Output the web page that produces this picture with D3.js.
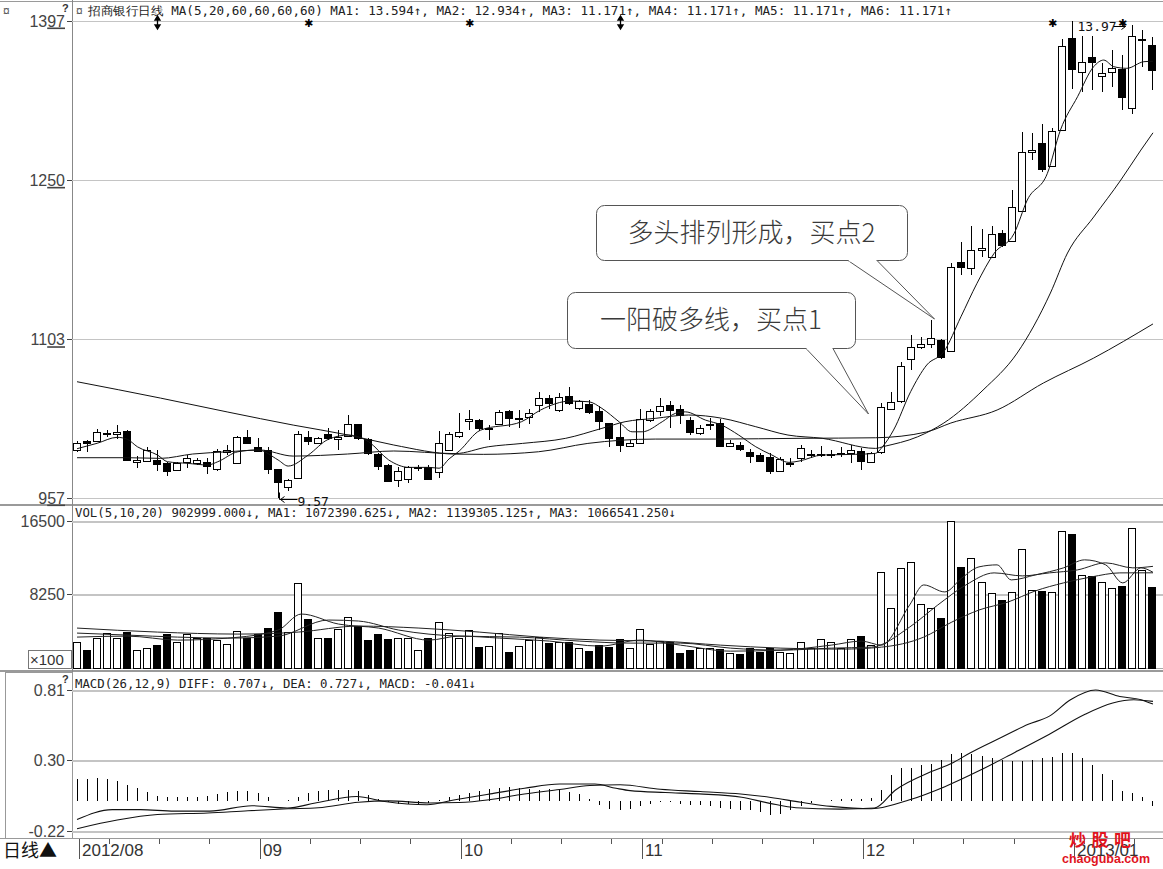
<!DOCTYPE html>
<html><head><meta charset="utf-8">
<script src="https://cdn.jsdelivr.net/npm/d3@7"></script>
<style>body{margin:0;background:#fff}svg{display:block}</style>
</head><body>
<svg id="c" width="1163" height="869"></svg>
<script>
// ---------- DATA ----------
const opens=[10.01,10.09,10.09,10.16,10.16,10.18,9.90,9.91,9.92,9.89,9.82,9.90,9.885,9.90,9.83,9.99,9.89,10.13,10.04,10.01,9.83,9.67,9.75,10.13,10.07,10.155,10.11,10.14,10.245,10.106,9.97,9.87,9.73,9.74,9.845,9.854,9.808,10.008,10.14,10.28,10.285,10.205,10.245,10.368,10.30,10.315,10.423,10.49,10.377,10.506,10.392,10.43,10.368,10.254,10.13,10.045,10.07,10.285,10.368,10.423,10.383,10.284,10.162,10.245,10.26,10.047,10.054,9.992,9.962,9.946,9.817,9.888,9.93,9.969,9.97,9.971,9.975,9.977,10.00,9.90,9.992,10.39,10.46,10.847,10.961,10.985,11.022,10.924,11.745,11.684,11.853,11.791,12.007,11.939,12.215,12.754,12.843,12.628,12.96,13.806,13.498,13.63,13.458,13.492,13.52,13.16,13.79,13.744];
const highs=[10.09,10.10,10.20,10.19,10.24,10.19,9.95,10.04,10.01,9.90,9.90,9.96,9.93,9.93,10.02,10.05,10.14,10.19,10.12,10.04,9.83,9.74,10.18,10.18,10.13,10.21,10.19,10.33,10.25,10.12,9.98,9.88,9.85,9.86,9.87,9.87,10.18,10.17,10.35,10.38,10.29,10.24,10.38,10.38,10.38,10.39,10.54,10.52,10.53,10.59,10.47,10.47,10.41,10.26,10.254,10.10,10.39,10.39,10.49,10.46,10.42,10.31,10.24,10.30,10.29,10.10,10.08,10.017,9.977,9.977,9.946,9.93,10.054,10.008,10.047,10.008,10.038,10.054,10.023,9.99,10.44,10.546,10.822,11.069,11.053,11.207,11.03,11.73,11.93,12.074,12.044,12.074,12.037,12.406,12.944,12.929,13.015,12.975,13.796,13.97,13.827,13.827,13.58,13.698,13.651,13.93,13.882,13.815];
const lows=[9.99,9.99,10.08,10.13,10.11,9.91,9.84,9.90,9.81,9.77,9.81,9.84,9.87,9.79,9.81,9.96,9.88,10.07,9.99,9.79,9.57,9.63,9.74,10.05,10.06,10.10,10.01,10.13,10.10,9.96,9.82,9.71,9.67,9.70,9.81,9.73,9.75,10.00,10.12,10.19,10.18,10.10,10.24,10.22,10.21,10.25,10.36,10.39,10.36,10.42,10.38,10.34,10.19,10.04,9.99,10.04,10.06,10.27,10.32,10.21,10.25,10.15,10.15,10.19,10.04,10.04,9.998,9.885,9.894,9.784,9.808,9.854,9.90,9.93,9.946,9.937,9.946,9.885,9.823,9.89,9.97,10.38,10.44,10.746,10.937,10.946,10.845,10.92,11.622,11.622,11.79,11.776,11.883,11.93,12.21,12.683,12.575,12.621,12.953,13.335,13.313,13.33,13.313,13.359,13.144,13.11,13.544,13.33];
const closes=[10.07,10.07,10.17,10.165,10.17,9.92,9.92,10.01,9.875,9.81,9.885,9.93,9.915,9.86,10.00,10.01,10.13,10.075,10.00,9.83,9.71,9.73,10.155,10.09,10.115,10.115,10.13,10.245,10.115,9.977,9.86,9.725,9.814,9.848,9.848,9.74,10.07,10.16,10.17,10.29,10.208,10.21,10.356,10.30,10.305,10.352,10.485,10.438,10.499,10.439,10.46,10.36,10.275,10.116,10.054,10.075,10.294,10.368,10.414,10.377,10.33,10.176,10.213,10.25,10.045,10.075,10.017,9.955,9.91,9.814,9.925,9.892,10.029,9.973,9.974,9.975,9.98,10.008,9.906,9.977,10.402,10.448,10.785,10.961,10.985,11.038,10.868,11.693,11.699,11.853,11.868,11.998,11.899,12.247,12.76,12.775,12.597,12.953,13.737,13.52,13.59,13.584,13.489,13.535,13.267,13.827,13.795,13.514];
const volumes=[2893,1955,3277,3842,3277,4023,1955,2147,2520,3729,2893,3729,3277,3345,3085,2599,4136,3277,3729,4407,6215,3955,9492,5424,3345,3277,4328,5650,4701,3085,3729,3198,3345,3277,1955,3277,5153,3842,3345,4215,2328,2441,3842,1695,2441,3085,3458,2712,2893,2825,2147,1876,2520,2328,3164,2147,4294,2599,2972,2893,1650,1955,2215,2147,2068,1582,1503,2147,1763,2215,1763,1582,2893,2215,3198,2893,2215,3164,3571,2520,10803,6667,11255,11933,7119,6735,5537,16532,11368,12385,9673,8362,7605,8543,13334,8735,8622,8475,15323,15029,10430,10351,9673,8927,9187,15707,10995,9030];
const macdHist=[0.157,0.157,0.164,0.157,0.147,0.116,0.092,0.068,0.037,0.027,0.027,0.027,0.032,0.037,0.051,0.068,0.075,0.075,0.056,0.027,-0.004,0.008,0.032,0.056,0.075,0.08,0.08,0.08,0.075,0.044,0.013,-0.011,-0.02,-0.02,-0.02,-0.016,0.008,0.027,0.044,0.06,0.075,0.085,0.092,0.099,0.092,0.085,0.08,0.085,0.08,0.068,0.051,0.013,-0.028,-0.059,-0.068,-0.059,-0.04,-0.023,-0.011,-0.011,-0.02,-0.028,-0.028,-0.035,-0.052,-0.059,-0.064,-0.068,-0.083,-0.1,-0.093,-0.064,-0.035,-0.016,-0.004,0.008,0.013,0.013,0.013,0.02,0.08,0.19,0.24,0.24,0.26,0.27,0.30,0.34,0.35,0.34,0.33,0.31,0.30,0.29,0.29,0.30,0.31,0.32,0.35,0.35,0.31,0.26,0.20,0.15,0.07,0.056,0.032,-0.041];
// moving-average lines read at positions along the candle axis: [candle position, value]
const priceMA5=[[0,10.02],[2,10.07],[4,10.125],[5,10.107],[6,10.038],[8,9.962],[9,9.90],[11,9.885],[13,9.87],[14,9.90],[16,9.992],[18,10.008],[20,9.916],[21,9.86],[23,9.962],[25,10.107],[27,10.146],[29,10.084],[31,9.916],[33,9.848],[35,9.848],[36,9.84],[37,9.926],[38,9.998],[40.1,10.19],[44.2,10.269],[46.1,10.377],[49.1,10.46],[50.9,10.453],[52.2,10.392],[53.9,10.269],[55.2,10.176],[56.2,10.176],[58.2,10.269],[59.5,10.346],[60.5,10.36],[62.5,10.284],[64.1,10.238],[65.8,10.146],[67.5,10.038],[69.1,9.962],[70.8,9.894],[71.8,9.906],[74.1,9.962],[77.4,9.968],[79.4,9.977],[80.1,10.038],[81.2,10.192],[82.9,10.546],[84.5,10.792],[86.2,10.915],[87.9,11.237],[89.5,11.546],[91.2,11.822],[93.2,12.007],[94.5,12.314],[96.5,12.56],[97.8,12.96],[99.5,13.267],[101.1,13.544],[102.1,13.605],[103.1,13.544],[104.4,13.529],[106.1,13.59],[107,13.594]];
const priceMA20=[[0,9.937],[5,9.937],[8.3,9.931],[11.5,9.971],[15,9.992],[18.2,10.008],[21.5,9.952],[26.9,9.971],[31.5,9.999],[37.6,9.975],[40.9,10.038],[44.3,10.069],[48.6,10.116],[52.2,10.208],[54.5,10.269],[57.5,10.30],[60.8,10.331],[64.2,10.30],[67.5,10.223],[70.7,10.146],[74.1,10.116],[79.4,10.023],[80.2,10.04],[83.6,10.13],[86.2,10.257],[90.1,10.561],[93.5,10.903],[96.8,11.456],[98.5,11.825],[101.1,12.157],[103.8,12.498],[105.8,12.775],[107,12.934]];
const priceMA60=[[0,10.638],[8.3,10.487],[15,10.358],[21.5,10.238],[27,10.146],[31.5,10.054],[37.6,9.97],[40.4,9.968],[45.9,9.992],[50.8,10.069],[57.5,10.109],[63.5,10.109],[72,10.116],[79.4,10.121],[84.5,10.175],[86.9,10.257],[91.5,10.377],[96.1,10.626],[101.1,10.856],[107,11.171]];
const volMA5=[[0,3424],[5,3537],[10,3085],[15,3311],[20,4215],[22.3,6023],[26,4893],[30,4441],[35,3085],[38,3537],[42,3311],[47,2972],[52,2407],[56,3085],[60,2520],[65,1842],[70,1955],[75,2520],[78,2972],[80,2520],[82.8,7040],[84.2,9300],[86.3,8509],[88,10091],[89.7,11334],[91.5,11560],[92.9,9865],[95.3,10430],[98.1,11221],[100.2,12125],[102.3,11560],[104,9526],[105.8,11221],[107,10724]];
const volMA10=[[0,3876],[5,3650],[10,3424],[15,3311],[20,3537],[25,5345],[28,5232],[32,4215],[38,3537],[44,3424],[50,2972],[55,2746],[60,2746],[65,2181],[70,1955],[75,2181],[79,2294],[82.8,4554],[85.6,7040],[88.4,9300],[91.2,10656],[94,10317],[96.7,10656],[99.5,10995],[102.3,11786],[105,11221],[107,11393]];
const volMA20=[[0,4441],[8,3989],[16,3763],[22,3989],[28,4667],[34,4441],[40,3989],[46,3424],[52,3085],[58,2972],[64,2520],[70,2181],[76,2068],[80,2294],[84.2,3424],[87,5119],[89.7,6475],[92.6,7379],[95.3,8622],[98.1,9526],[100.9,10204],[103.7,10656],[107,10665]];
const diffLine=[[0,-0.136],[3.5,-0.064],[6.3,-0.064],[9.7,-0.075],[13.2,-0.075],[17.4,-0.035],[20.9,-0.052],[23.7,-0.016],[27.8,0.032],[30.6,-0.004],[34.8,-0.028],[37.6,0.008],[41.1,0.051],[44.5,0.092],[48,0.123],[51.5,0.123],[53.6,0.092],[55,0.075],[58.5,0.061],[61.9,0.051],[66.1,0.027],[68.9,-0.018],[71.5,-0.05],[75.9,-0.06],[79.3,-0.052],[81.4,0.08],[84.9,0.212],[87,0.275],[88.8,0.35],[91.9,0.463],[94.6,0.559],[96.7,0.619],[98.8,0.739],[101.3,0.81],[103.7,0.762],[105.8,0.739],[107,0.707]];
const deaLine=[[0,-0.203],[4,-0.14],[8,-0.1],[13,-0.088],[17,-0.072],[21,-0.058],[24,-0.05],[28,-0.01],[31,0.0],[35,-0.015],[38,-0.012],[41,0.008],[44,0.045],[48,0.083],[51,0.112],[54,0.118],[58,0.085],[62,0.068],[66,0.05],[69,0.025],[72,-0.01],[75,-0.04],[79,-0.058],[82.8,0.008],[86.3,0.104],[89.8,0.223],[93.3,0.356],[96.7,0.487],[100.2,0.631],[103,0.715],[105.1,0.739],[107,0.727]];
// axes
const priceTicks=[9.57,11.03,12.50,13.97];
const priceTickLabels=["957","1103","1250","1397"];
const volTicks=[8250,16500];
const volTickLabels=["8250","16500"];
const macdTicks=[-0.22,0.30,0.81];
const macdTickLabels=["-0.22","0.30","0.81"];
const monthStarts=[0,18,38,56,78,99];
const monthLabels=["2012/08","09","10","11","12","2013/01"];
const weekStarts=[3,8,13,23,28,33,43,48,53,58,63,68,73,83,88,93,100,105];
const mainTitle="招商银行日线 MA(5,20,60,60,60,60) MA1: 13.594↑, MA2: 12.934↑, MA3: 11.171↑, MA4: 11.171↑, MA5: 11.171↑, MA6: 11.171↑";
const volTitle="VOL(5,10,20) 902999.000↓, MA1: 1072390.625↓, MA2: 1139305.125↑, MA3: 1066541.250↓";
const macdTitle="MACD(26,12,9) DIFF: 0.707↓, DEA: 0.727↓, MACD: -0.041↓";
const calloutTexts=["多头排列形成，买点2","一阳破多线，买点1"];
const lowMark={i:20,label:"9.57"}, highMark={i:99,label:"13.97"};
const starMarks=[23,39,97,104];
const arrowMarks=[8,54];

// ---------- DRAW ----------
const svg=d3.select('#c');
const N=closes.length;
const L=72, R=1163;
const x=d3.scaleBand().domain(d3.range(N)).range([72,1158]);
const cx=i=>Math.floor(x(i)+x.bandwidth()/2)+0.5;
const xf=p=>x(0)+x.bandwidth()/2+p*x.step();
const yP=d3.scaleLinear().domain([9.57,13.97]).range([497.5,20.5]);
const yV=d3.scaleLinear().domain([0,16500]).range([667.5,521]);
const yM=d3.scaleLinear().domain([-0.22,0.81]).range([831,690]);
const r5=v=>Math.round(v)+0.5;
const grid="#c4c4c4", sep="#9a9a9a", ink="#000";
const labFont="'Liberation Sans',Arial,sans-serif";
const monoFont="'DejaVu Sans Mono','Liberation Mono',monospace";

function hline(y,x1,x2,col,w){svg.append('line').attr('x1',x1).attr('x2',x2).attr('y1',y).attr('y2',y).attr('stroke',col).attr('stroke-width',w||1).attr('shape-rendering','crispEdges');}
function vline(xx,y1,y2,col,w){svg.append('line').attr('x1',xx).attr('x2',xx).attr('y1',y1).attr('y2',y2).attr('stroke',col).attr('stroke-width',w||1).attr('shape-rendering','crispEdges');}

// frame / separators
hline(1.5,0,R,sep,1);
hline(504.5,0,R,sep,2);
hline(670.5,0,R,sep,2);
hline(838.5,0,R,sep,1);
vline(72.5,0,838,"#888",1);
svg.append('rect').attr('x',5.5).attr('y',672.5).attr('width',67).attr('height',166).attr('fill','none').attr('stroke','#999').attr('shape-rendering','crispEdges');

// gridlines
priceTicks.forEach(t=>hline(r5(yP(t)),L,R,grid,1));
volTicks.forEach(t=>hline(r5(yV(t)),L,R,grid,2));
hline(r5(yV(0)),L,R,"#aaa",1);
macdTicks.forEach(t=>hline(r5(yM(t)),L,R,grid,2));

// tick labels (left)
function leftLabel(y,txt,underline){
  const t=svg.append('text').attr('x',65).attr('y',y+6).attr('text-anchor','end')
    .attr('font-family',labFont).attr('font-size',16).attr('fill','#444');
  if(underline){
    t.append('tspan').text(txt.slice(0,-2));
    t.append('tspan').text(txt.slice(-2)).style('text-decoration','underline');
  } else t.text(txt);
  svg.append('line').attr('x1',67).attr('x2',72).attr('y1',r5(y)).attr('y2',r5(y)).attr('stroke','#444').attr('shape-rendering','crispEdges');
}
priceTicks.forEach((t,k)=>leftLabel(yP(t),priceTickLabels[k],true));
volTicks.forEach((t,k)=>leftLabel(yV(t),volTickLabels[k],false));
macdTicks.forEach((t,k)=>leftLabel(yM(t),macdTickLabels[k],false));
svg.append('rect').attr('x',28.5).attr('y',650.5).attr('width',43).attr('height',18).attr('fill','#fff').attr('stroke','#777').attr('shape-rendering','crispEdges');
svg.append('text').attr('x',30).attr('y',665).attr('font-family',labFont).attr('font-size',15).attr('fill','#333').text('×100');
// small "?" icons next to top labels
[[62,12],[62,683]].forEach(p=>svg.append('text').attr('x',p[0]).attr('y',p[1]).attr('font-family',labFont).attr('font-weight','bold').attr('font-size',11).attr('fill','#333').text('?'));
svg.append('text').attr('x',3).attr('y',15).attr('font-family',labFont).attr('font-size',12).attr('fill','#555').text('¤');

// headers
svg.append('text').attr('x',76).attr('y',15).attr('font-family',labFont).attr('font-size',12).attr('fill','#555').text('¤');
svg.append('text').attr('x',88).attr('y',15).attr('font-family',monoFont).attr('font-size',12).attr('fill','#222')
  .attr('textLength',864).attr('lengthAdjust','spacingAndGlyphs').text(mainTitle);
svg.append('text').attr('x',75).attr('y',517).attr('font-family',monoFont).attr('font-size',12).attr('fill','#222')
  .attr('textLength',601).attr('lengthAdjust','spacingAndGlyphs').text(volTitle);
svg.append('text').attr('x',75).attr('y',688).attr('font-family',monoFont).attr('font-size',12).attr('fill','#222')
  .attr('textLength',401).attr('lengthAdjust','spacingAndGlyphs').text(macdTitle);

// candles
const gC=svg.append('g').attr('shape-rendering','crispEdges');
d3.range(N).forEach(i=>{
  const up=closes[i]>=opens[i];
  const X=cx(i);
  gC.append('line').attr('x1',X).attr('x2',X).attr('y1',Math.round(yP(highs[i]))).attr('y2',Math.round(yP(lows[i]))).attr('stroke',ink);
  const yt=Math.round(yP(Math.max(opens[i],closes[i]))), yb=Math.round(yP(Math.min(opens[i],closes[i])));
  gC.append('rect').attr('x',X-4).attr('y',yt+0.5).attr('width',7).attr('height',Math.max(1,yb-yt))
    .attr('fill',up?'#fff':ink).attr('stroke',ink);
});

// price MA lines
const lineP=d3.line().x(d=>xf(d[0])).y(d=>yP(d[1])).curve(d3.curveMonotoneX);
[priceMA60,priceMA20,priceMA5].forEach(a=>svg.append('path').attr('d',lineP(a)).attr('fill','none').attr('stroke','#111').attr('stroke-width',1));

// volume bars
const gV=svg.append('g').attr('shape-rendering','crispEdges');
d3.range(N).forEach(i=>{
  const up=closes[i]>=opens[i];
  const X=cx(i); const yt=Math.round(yV(volumes[i])); const yb=Math.round(yV(0));
  gV.append('rect').attr('x',X-4).attr('y',yt+0.5).attr('width',7).attr('height',yb-yt)
    .attr('fill',up?'#fff':ink).attr('stroke',ink);
});
const lineV=d3.line().x(d=>xf(d[0])).y(d=>yV(d[1])).curve(d3.curveMonotoneX);
[volMA20,volMA10,volMA5].forEach(a=>svg.append('path').attr('d',lineV(a)).attr('fill','none').attr('stroke','#222').attr('stroke-width',1));

// MACD
const gM=svg.append('g').attr('shape-rendering','crispEdges');
d3.range(N).forEach(i=>{
  gM.append('line').attr('x1',cx(i)).attr('x2',cx(i)).attr('y1',Math.round(yM(0))).attr('y2',Math.round(yM(macdHist[i]))).attr('stroke',ink);
});
const lineM=d3.line().x(d=>xf(d[0])).y(d=>yM(d[1])).curve(d3.curveMonotoneX);
[deaLine,diffLine].forEach(a=>svg.append('path').attr('d',lineM(a)).attr('fill','none').attr('stroke','#111').attr('stroke-width',1.1));

// top event markers
starMarks.forEach(i=>svg.append('text').attr('x',cx(i)).attr('y',27).attr('text-anchor','middle').attr('font-family','DejaVu Sans').attr('font-size',11).attr('fill','#000').text('✱'));
arrowMarks.forEach(i=>{
  const X=cx(i);
  svg.append('path').attr('d',`M${X},17 L${X},28 M${X-2.5},20 L${X},16 L${X+2.5},20 Z M${X-2.5},25 L${X},29 L${X+2.5},25 Z`).attr('stroke','#000').attr('fill','#000').attr('stroke-width',1.3);
});
// high / low marks
{
  const X=cx(lowMark.i)+3, Y=Math.round(yP(lows[lowMark.i]))+1.5;
  svg.append('path').attr('d',`M${X-2},${Y-7} L${X-2},${Y} L${X+16},${Y} M${X+3},${Y-3} L${X-1},${Y} L${X+3},${Y+3}`).attr('stroke','#000').attr('fill','none');
  svg.append('text').attr('x',X+16).attr('y',Y+6).attr('font-family',monoFont).attr('font-size',13).attr('fill','#111').text(lowMark.label);
}
{
  const X=cx(highMark.i)+5;
  svg.append('text').attr('x',X).attr('y',31).attr('font-family',monoFont).attr('font-size',13).attr('fill','#111').text(highMark.label);
  svg.append('path').attr('d',`M${X+36},26.5 L${X+48},26.5 M${X+44},23.5 L${X+48},26.5 L${X+44},29.5`).attr('stroke','#000').attr('fill','none');
}

// callouts
function callout(bx,by,bw,bh,b1,b2,tx,ty,text,fs){
  svg.append('rect').attr('x',bx+0.5).attr('y',by+0.5).attr('width',bw).attr('height',bh).attr('rx',8).attr('fill','#fff').attr('stroke','#555');
  const yb=by+bh+0.5;
  svg.append('path').attr('d',`M${b1},${yb} L${tx},${ty} L${b2},${yb}`).attr('fill','#fff').attr('stroke','#555');
  svg.append('line').attr('x1',b1+0.8).attr('x2',b2-0.8).attr('y1',yb).attr('y2',yb).attr('stroke','#fff').attr('stroke-width',2);
  svg.append('text').attr('x',bx+bw/2).attr('y',by+bh/2+9).attr('text-anchor','middle')
    .attr('font-family',"'Noto Sans CJK SC','Noto Sans',sans-serif").attr('font-weight',300).attr('font-size',fs).attr('fill','#3a3a3a').text(text);
}
callout(596,205,311,55,848,877,cx(86)-7,319,calloutTexts[0],26);
callout(567,292,288,56,806,833,cx(79)-3,414,calloutTexts[1],26);

// bottom date axis
svg.append('text').attr('x',3).attr('y',857).attr('font-family',"'Noto Sans CJK SC',sans-serif").attr('font-size',18).attr('fill','#111').text('日线▲');
weekStarts.forEach(i=>vline(cx(i)+2,839,844,'#555',1));
monthStarts.forEach((i,k)=>{
  const X=cx(i)+1.5;
  vline(X,839,859,'#555',1);
  svg.append('text').attr('x',X+3).attr('y',856).attr('font-family',labFont).attr('font-size',17).attr('fill','#333').text(monthLabels[k]);
});
// watermark
svg.append('text').attr('x',1069).attr('y',846).attr('font-family',"'Noto Sans CJK SC',sans-serif").attr('font-weight','bold').attr('font-size',17).attr('fill','#e0141e').attr('textLength',62).text('炒股吧');
svg.append('text').attr('x',1062).attr('y',863).attr('font-family',labFont).attr('font-weight','bold').attr('font-size',12).attr('fill','#e0141e').attr('textLength',88).attr('lengthAdjust','spacingAndGlyphs').text('chaoguba.com');
</script>
</body></html>
